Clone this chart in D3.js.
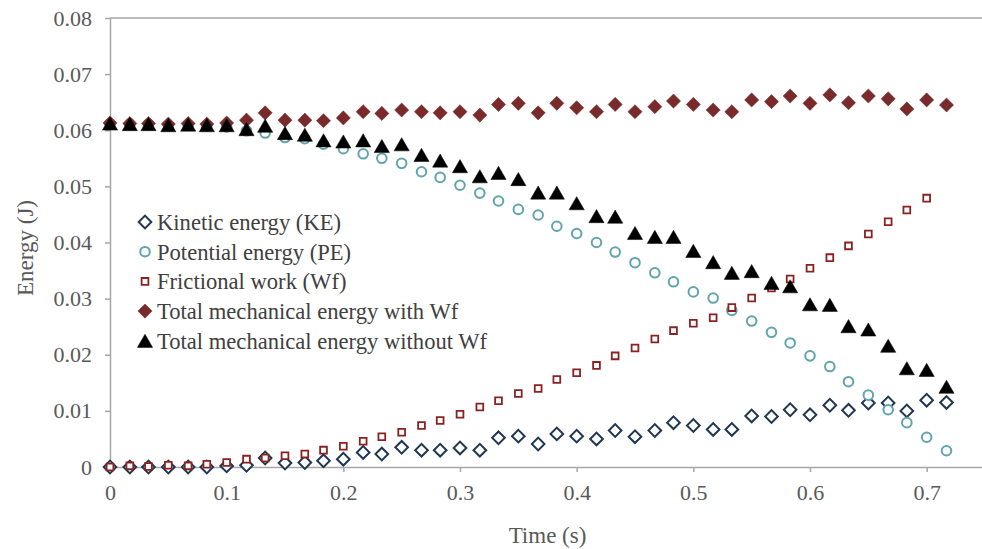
<!DOCTYPE html>
<html lang="en">
<head>
    <meta charset="UTF-8">
    <title>Energy vs Time</title>
    <script src="https://d3js.org/d3.v7.min.js"></script>
    <style>
        body {
            margin: 0;
            background-color: #ffffff;
        }
        svg text {
            font-family: "Liberation Serif", "Times New Roman", serif;
        }
        .tick-label {
            font-size: 22px;
            fill: #595959;
        }
        .axis-title {
            font-size: 23px;
            fill: #595959;
        }
        .legend-label {
            font-size: 22.6px;
            fill: #404040;
        }
    </style>
</head>
<body>
    <svg id="chart" width="982" height="549"></svg>
    <script>
        // Time stamps (s), one frame every 1/60 s
        const time = [0, 0.017, 0.033, 0.05, 0.067, 0.083, 0.1, 0.117, 0.133, 0.15, 0.167, 0.183,
            0.2, 0.217, 0.233, 0.25, 0.267, 0.283, 0.3, 0.317, 0.333, 0.35, 0.367, 0.383,
            0.4, 0.417, 0.433, 0.45, 0.467, 0.483, 0.5, 0.517, 0.533, 0.55, 0.567, 0.583,
            0.6, 0.617, 0.633, 0.65, 0.667, 0.683, 0.7, 0.717];

        // Kinetic energy (J)
        const kinetic = [0, 0, 0, 0, 0, 0, 0.0002, 0.0003, 0.0016, 0.0007, 0.0008, 0.0011,
            0.0014, 0.0026, 0.0023, 0.0035, 0.003, 0.003, 0.0034, 0.003, 0.0052, 0.0055, 0.0041, 0.0059,
            0.0055, 0.005, 0.0065, 0.0054, 0.0065, 0.0079, 0.0074, 0.0067, 0.0067, 0.0091, 0.009, 0.0102,
            0.0093, 0.011, 0.0101, 0.0114, 0.0114, 0.01, 0.0119, 0.0115];

        // Potential energy (J)
        const potential = [0.0612, 0.0611, 0.0611, 0.0609, 0.0609, 0.0608, 0.0606, 0.0599, 0.0595, 0.0587, 0.0585, 0.0575,
            0.0567, 0.0558, 0.055, 0.0541, 0.0526, 0.0516, 0.0502, 0.0488, 0.0474, 0.0459, 0.0449, 0.0429,
            0.0416, 0.04, 0.0383, 0.0364, 0.0346, 0.033, 0.0312, 0.0301, 0.0279, 0.026, 0.024, 0.0221,
            0.0198, 0.0179, 0.0152, 0.0128, 0.0102, 0.0079, 0.0053, 0.0029];

        // Frictional work (J), no value in the last frame
        const friction = [0, 0.0002, 0.0001, 0.0003, 0.0002, 0.0005, 0.0008, 0.0014, 0.0016, 0.002, 0.0023, 0.003,
            0.0037, 0.0046, 0.0054, 0.0062, 0.0074, 0.0083, 0.0094, 0.0107, 0.0118, 0.0131, 0.014, 0.0156,
            0.0168, 0.0181, 0.0198, 0.0212, 0.0228, 0.0243, 0.0256, 0.0266, 0.0284, 0.0301, 0.0319, 0.0335,
            0.0354, 0.0373, 0.0394, 0.0415, 0.0437, 0.0458, 0.0479, null];

        // Total mechanical energy with Wf (J)
        const totalWith = [0.0613, 0.0612, 0.0612, 0.0611, 0.0612, 0.0611, 0.0613, 0.0618, 0.0631, 0.0618, 0.0618, 0.0617,
            0.0622, 0.0633, 0.063, 0.0636, 0.0633, 0.0631, 0.0633, 0.0627, 0.0646, 0.0648, 0.0631, 0.0648,
            0.064, 0.0633, 0.0646, 0.0633, 0.0642, 0.0652, 0.0646, 0.0636, 0.0633, 0.0654, 0.0651, 0.0661,
            0.0648, 0.0663, 0.0649, 0.0661, 0.0656, 0.0638, 0.0654, 0.0645];

        // Total mechanical energy without Wf (J)
        const totalWithout = [0.0612, 0.0611, 0.0611, 0.0609, 0.061, 0.0609, 0.0609, 0.0602, 0.0608, 0.0595, 0.0592, 0.0582,
            0.058, 0.0582, 0.0572, 0.0575, 0.0556, 0.0546, 0.0536, 0.0518, 0.0524, 0.0513, 0.0489, 0.0489,
            0.047, 0.0447, 0.0446, 0.0417, 0.041, 0.041, 0.0385, 0.0365, 0.0346, 0.0349, 0.0328, 0.0322,
            0.029, 0.0289, 0.0251, 0.0245, 0.0216, 0.0176, 0.0173, 0.0143];

        const xTicks = [0, 0.1, 0.2, 0.3, 0.4, 0.5, 0.6, 0.7];
        const yTicks = [0, 0.01, 0.02, 0.03, 0.04, 0.05, 0.06, 0.07, 0.08];

        const width = 982;
        const height = 549;
        const margin = { left: 110, right: -3, top: 18, bottom: 82 };

        const svg = d3.select("#chart");
        svg.append("rect").attr("width", width).attr("height", height).attr("fill", "#fff");

        const x = d3.scaleLinear().domain([0, 0.75]).range([margin.left, width - margin.right]);
        const y = d3.scaleLinear().domain([0, 0.08]).range([height - margin.bottom, margin.top]);

        const axisColor = "#a6a6a6";

        // top border line at 0.08
        svg.append("line")
            .attr("x1", x(0)).attr("x2", x(0.75))
            .attr("y1", y(0.08)).attr("y2", y(0.08))
            .attr("stroke", axisColor).attr("stroke-width", 1.5);

        // Y axis
        const yAxis = svg.append("g")
            .attr("transform", `translate(${x(0)},0)`)
            .call(d3.axisLeft(y).tickValues(yTicks).tickSize(5).tickSizeOuter(0).tickPadding(13)
                .tickFormat(d => d3.format("~g")(d)));
        yAxis.select(".domain").attr("stroke", axisColor).attr("stroke-width", 1.5);
        yAxis.selectAll(".tick line").attr("stroke", axisColor).attr("stroke-width", 1.5);
        yAxis.selectAll(".tick text").attr("class", "tick-label").attr("font-size", null).attr("font-family", null);

        // X axis
        const xAxis = svg.append("g")
            .attr("transform", `translate(0,${y(0)})`)
            .call(d3.axisBottom(x).tickValues(xTicks).tickSize(5).tickSizeOuter(0).tickPadding(12)
                .tickFormat(d => d3.format("~g")(d)));
        xAxis.select(".domain").attr("stroke", axisColor).attr("stroke-width", 1.5);
        xAxis.selectAll(".tick line").attr("stroke", axisColor).attr("stroke-width", 1.5);
        xAxis.selectAll(".tick text").attr("class", "tick-label").attr("font-size", null).attr("font-family", null);

        // Axis titles
        svg.append("text")
            .attr("class", "axis-title")
            .attr("x", (x(0) + x(0.75)) / 2)
            .attr("y", 543)
            .attr("text-anchor", "middle")
            .text("Time (s)");

        svg.append("text")
            .attr("class", "axis-title")
            .attr("transform", "translate(33,248) rotate(-90)")
            .attr("text-anchor", "middle")
            .text("Energy (J)");

        // Series definitions
        const series = [
            { name: "Kinetic energy (KE)", values: kinetic, shape: "diamond", size: 80, fill: "#fff", stroke: "#1f3752", sw: 2 },
            { name: "Potential energy (PE)", values: potential, shape: "circle", size: 72, fill: "#fff", stroke: "#62a4ad", sw: 2 },
            { name: "Frictional work (Wf)", values: friction, shape: "square", size: 46, fill: "#fff", stroke: "#8b2222", sw: 1.8 },
            { name: "Total mechanical energy with Wf", values: totalWith, shape: "diamond", size: 100, fill: "#792a2a", stroke: "#792a2a", sw: 0.5 },
            { name: "Total mechanical energy without Wf", values: totalWithout, shape: "triangle", size: 100, fill: "#000", stroke: "#000", sw: 0.5 }
        ];

        function symbolPath(s) {
            if (s.shape === "diamond" || s.shape === "square") return d3.symbol(d3.symbolSquare, s.size)();
            if (s.shape === "circle") return d3.symbol(d3.symbolCircle, s.size)();
            return d3.symbol(d3.symbolTriangle, s.size)();
        }

        function markTransform(s, px, py) {
            if (s.shape === "diamond") return `translate(${px},${py}) rotate(45)`;
            if (s.shape === "triangle") {
                // centre the triangle on its bounding box rather than its centroid
                const r = Math.sqrt(s.size / (Math.sqrt(3) * 3));
                return `translate(${px},${py + r / 2})`;
            }
            return `translate(${px},${py})`;
        }

        // Draw points
        series.forEach(s => {
            const pts = s.values.map((v, i) => ({ t: time[i], v: v })).filter(d => d.v !== null);
            svg.append("g").selectAll("path")
                .data(pts)
                .enter()
                .append("path")
                .attr("d", symbolPath(s))
                .attr("transform", d => markTransform(s, x(d.t), y(d.v)))
                .attr("fill", s.fill)
                .attr("stroke", s.stroke)
                .attr("stroke-width", s.sw);
        });

        // Legend
        const legend = svg.append("g");
        series.forEach((s, i) => {
            const ly = 222 + i * 29.7;
            legend.append("path")
                .attr("d", symbolPath(s))
                .attr("transform", markTransform(s, 145, ly))
                .attr("fill", s.fill)
                .attr("stroke", s.stroke)
                .attr("stroke-width", s.sw);
            legend.append("text")
                .attr("class", "legend-label")
                .attr("x", 157)
                .attr("y", ly)
                .attr("dy", "0.35em")
                .text(s.name);
        });
    </script>
</body>
</html>
